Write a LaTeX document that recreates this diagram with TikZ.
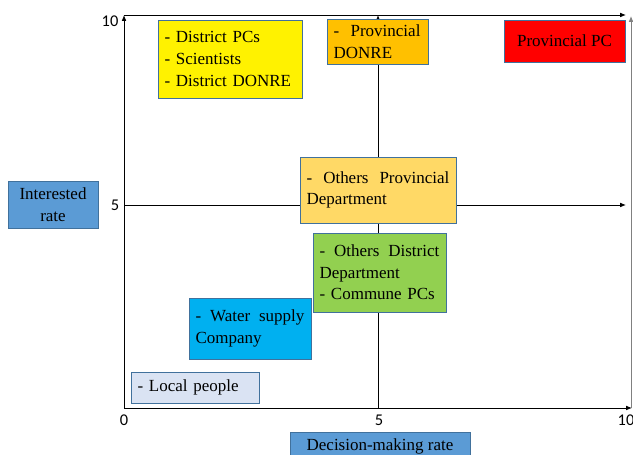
\documentclass[tikz,border=0pt]{standalone}
\usepackage{fontspec}
\setmainfont{Liberation Serif}
\newfontfamily\ticksfont{Carlito}
\usetikzlibrary{arrows.meta}
\definecolor{boxline}{HTML}{41719C}
\definecolor{rateblue}{HTML}{5B9BD5}
\definecolor{donreorange}{HTML}{FFC000}
\definecolor{deptyellow}{HTML}{FFD966}
\definecolor{communegreen}{HTML}{92D050}
\definecolor{watercyan}{HTML}{00B0F0}
\definecolor{localgrey}{HTML}{DAE3F3}
\tikzset{
  stakebox/.style={draw=boxline, line width=0.7pt, inner xsep=0.2cm, inner ysep=0pt,
    font=\fontsize{14.5}{18.5}\selectfont, text=black},
  axisline/.style={line width=0.7pt, -{Latex[length=5pt,width=4pt]}},
  ticklabel/.style={font=\ticksfont\fontsize{14}{16}\selectfont}
}

\begin{document}
\begin{tikzpicture}[x=0.03cm, y=-0.03cm]
    \useasboundingbox (0,0) rectangle (633,455);

    % Axis corners
    \coordinate (origin) at (124,408);
    \coordinate (ytop) at (124,15);
    \coordinate (topend) at (626,15);
    \coordinate (xend) at (632,408);
    \coordinate (rightbottom) at (631,408);
    \coordinate (righttop) at (631,16);
    \coordinate (midbottom) at (378,408);
    \coordinate (midtop) at (378,15);
    \coordinate (midleft) at (124,205);
    \coordinate (midright) at (626,205);

    % Draw the axes and the quadrant lines
    \draw[axisline] (origin) -- (ytop);
    \draw[axisline] (ytop) -- (topend);
    \draw[axisline] (origin) -- (xend);
    \draw[axisline, draw=gray, fill=gray] (rightbottom) -- (righttop);
    \draw[axisline] (midbottom) -- (midtop);
    \draw[axisline] (midleft) -- (midright);

    % Tick labels
    \node[ticklabel] (ytenlabel) at (110,21) {10};
    \node[ticklabel] (yfivelabel) at (115,205) {5};
    \node[ticklabel] (xzerolabel) at (124,420) {0};
    \node[ticklabel] (xfivelabel) at (379,420) {5};
    \node[ticklabel] (xtenlabel) at (626,420) {10};

    % Axis titles
    \node[stakebox, fill=rateblue, minimum width=2.7cm, minimum height=1.41cm, align=center] (interested) at (53,204.5) {Interested\\rate};
    \node[stakebox, fill=rateblue, minimum width=5.4cm, minimum height=0.84cm] (decision) at (380,446) {Decision-making rate};

    % Stakeholder boxes
    \node[stakebox, fill=yellow, text width=3.92cm, minimum height=2.34cm, align=left] (district) at (230,59) {- District PCs\\- Scientists\\- District DONRE};
    \node[stakebox, fill=donreorange, text width=2.63cm, minimum height=1.35cm, align=left] (provdonre) at (377.5,41.5) {-\ \ Provincial\\DONRE};
    \node[stakebox, fill=red, minimum width=3.63cm, minimum height=1.26cm] (provpc) at (564.5,41) {Provincial PC};
    \node[stakebox, fill=deptyellow, text width=4.28cm, minimum height=1.98cm, align=left] (provdept) at (378,190) {-\hfill Others\hfill Provincial\\Department};
    \node[stakebox, fill=communegreen, text width=3.59cm, minimum height=2.37cm, align=left] (distdept) at (379.5,272.5) {-\hfill Others\hfill District\\Department\\- Commune PCs};
    \node[stakebox, fill=watercyan, text width=3.26cm, minimum height=1.83cm, align=left] (water) at (250,328.5) {-\hfill Water\hfill supply\\Company};
    \node[stakebox, fill=localgrey, text width=3.44cm, minimum height=0.93cm, align=left] (local) at (195,387.5) {- Local people};
\end{tikzpicture}
\end{document}
